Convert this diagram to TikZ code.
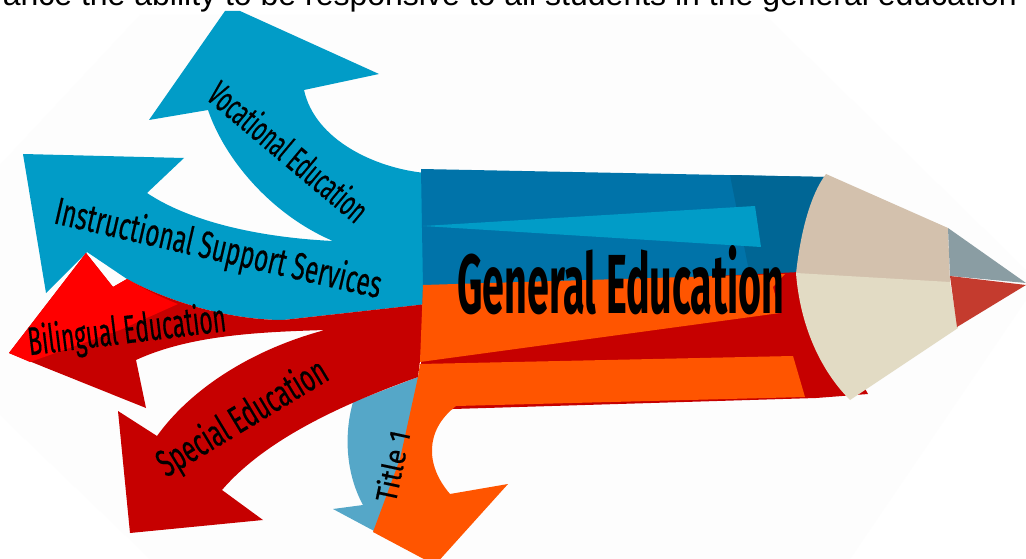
\documentclass[tikz,border=0pt]{standalone}
\usepackage{fontspec}
\usepackage{graphicx}
\setmainfont{Liberation Sans}
\newfontfamily\comicf[FakeBold=0.5]{Fira Sans}
\newfontfamily\comicb{Fira Sans}
\definecolor{haze}{HTML}{FDFDFD}
\definecolor{skyb}{HTML}{019CC7}
\definecolor{midb}{HTML}{0073A9}
\definecolor{deepb}{HTML}{006695}
\definecolor{redd}{HTML}{C60000}
\definecolor{redb}{HTML}{FF0000}
\definecolor{oran}{HTML}{FF5500}
\definecolor{titleb}{HTML}{55A7C8}
\definecolor{woodA}{HTML}{D3C1AD}
\definecolor{woodB}{HTML}{E2DBC4}
\definecolor{leadA}{HTML}{8A9DA3}
\definecolor{leadB}{HTML}{C43B2E}
\newcommand{\lbl}[3]{\resizebox{#1pt}{#2pt}{\comicf #3}}
\newcommand{\lblb}[3]{\resizebox{#1pt}{#2pt}{\comicb\bfseries #3}}
\tikzset{
  lab/.style={inner sep=0pt,outer sep=0pt,text=black,anchor=center}
}
\begin{document}
\begin{tikzpicture}[x=1pt,y=-1pt]
\clip (0,0) rectangle (1026,559);
\fill[white] (0,0) rectangle (1026,559);
\fill[haze] (0,165) -- (140,15) -- (765,15) -- (1026,270) -- (1026,300) -- (850,559) -- (150,559) -- (0,415) -- cycle;
\node[anchor=base east,inner sep=0pt,font=\fontsize{32pt}{34pt}\selectfont] (head) at (1017,6) {ance the ability to be responsive to all students in the general education};
% Title 1 arrow
\fill[titleb] (418,377) -- (353,402) .. controls (345,430) and (344,470) .. (363,505) -- (333,509) -- (376,532) -- (420,450) -- cycle;
% blue double arrow
\fill[skyb] (425,173) .. controls (375,168) and (315,140) .. (304,90) -- (379,74) -- (240,11) -- (225,11) -- (149,120) -- (208,110)
  .. controls (225,160) and (272,215) .. (333,241)
  .. controls (270,238) and (195,225) .. (147,193) -- (184,158) -- (23,154) -- (46,293) -- (87,252)
  -- (127,279) .. controls (175,305) and (235,320) .. (283,320) -- (428,304) -- cycle;
% red bilingual + special
\fill[redd] (427,304) -- (283,320) .. controls (235,320) and (175,305) .. (127,279) -- (113,287) -- (86,253) -- (9,353) -- (146,408) -- (136,360)
  .. controls (190,335) and (260,332) .. (325,330)
  .. controls (250,350) and (190,390) .. (157,436) -- (118,411) -- (130,533) -- (263,520) -- (222,490)
  .. controls (265,440) and (340,405) .. (418,377) -- cycle;
\fill[redb] (9,353) -- (86,253) -- (113,287) -- (127,279) .. controls (142,288) and (160,297) .. (178,304) -- (120,330) -- (30,362) -- cycle;
% body
\fill[midb] (421,169) -- (825,177) -- (800,276) -- (423,287) -- cycle;
\fill[deepb] (730,175) -- (825,177) -- (800,276) -- (750,276) -- cycle;
\fill[skyb] (423,226) -- (755,206) -- (761,247) -- cycle;
\fill[redd] (423,290) -- (800,272) -- (868,394) -- (816,398) -- (420,410) -- cycle;
\fill[oran] (423,285) -- (785,274) -- (773,287) -- (780,313) -- (420,362) -- cycle;
\fill[oran] (420,364) -- (793,356) -- (805,397) -- (456,406)
  .. controls (425,430) and (425,465) .. (450,494) -- (508,484) -- (435,565) -- (373,532) -- (400,459) -- (418,377) -- cycle;
% pencil tip
\fill[woodA] (826,174) .. controls (810,195) and (800,235) .. (796,274) -- (950,283) -- (948,228) -- cycle;
\fill[woodB] (796,273) -- (950,282) -- (958,328) -- (850,400) .. controls (820,370) and (800,325) .. (796,273) -- cycle;
\fill[leadA] (948,228) -- (1026,283) -- (950,276) -- cycle;
\fill[leadB] (950,276) -- (1026,285) -- (957,327) -- cycle;
% labels
\node[lab] (gen) at (621,280) {\lblb{327}{68}{General Education}};
\node[lab,rotate=-40] (voc) at (289,151) {\lbl{196}{28}{Vocational Education}};
\node[lab,rotate=-13] (ins) at (218,250) {\lbl{334}{30}{Instructional Support Services}};
\node[lab,rotate=7] (bil) at (127,332) {\lbl{199}{31}{Bilingual Education}};
\node[lab,rotate=31] (spe) at (243,419) {\lbl{192}{30}{Special Education}};
\node[lab,rotate=78] (tit) at (392,466) {\lbl{72}{23}{Title 1}};
\end{tikzpicture}
\end{document}
